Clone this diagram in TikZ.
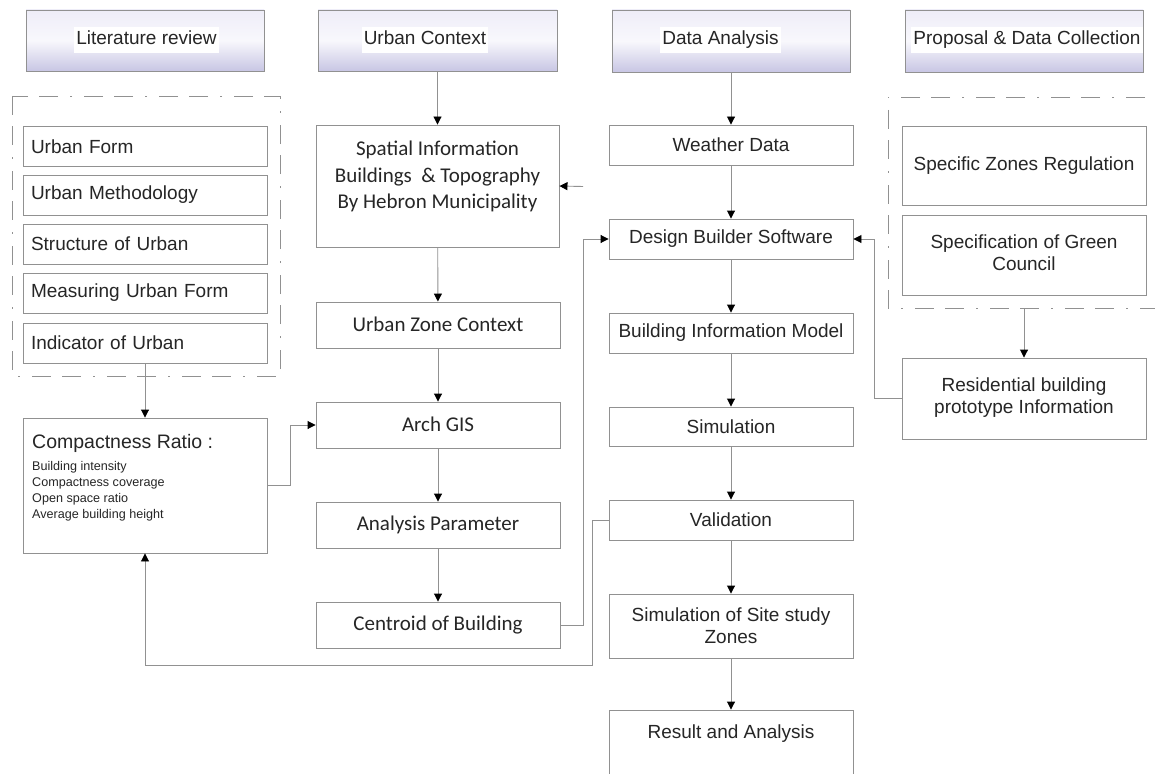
\documentclass[tikz,border=0pt]{standalone}
\usepackage{fontspec}
\setmainfont{Liberation Sans}
\newfontfamily\calfont{Carlito}
\usetikzlibrary{arrows.meta}
\definecolor{lineclr}{RGB}{145,145,145}
\definecolor{lavtop}{RGB}{238,237,248}
\definecolor{lavbot}{RGB}{200,198,228}
\tikzset{
  box/.style={draw=lineclr, line width=0.9pt, rectangle, inner sep=0pt, align=center,
    font=\fontsize{19}{22}\selectfont, text=black!85},
  calbox/.style={box, font=\calfont\fontsize{21}{26.5}\selectfont},
  lbox/.style={box, minimum width=244pt, minimum height=40pt, text width=228pt, inner xsep=8pt, align=left},
  hdr/.style={draw=lineclr, line width=0.9pt, rectangle, top color=lavtop, bottom color=lavbot, middle color=white!60!lavtop},
  hdrtext/.style={fill=white, inner xsep=2pt, inner ysep=4pt, text height=14pt, text depth=4pt, font=\fontsize{19}{22}\selectfont, text=black!85},
  plain/.style={inner sep=0pt, align=center, text=black!85},
  conn/.style={draw=lineclr, line width=0.9pt},
  arr/.style={conn, -{Triangle[length=8pt,width=8pt,color=black]}},
  frame/.style={draw=lineclr, line width=0.9pt, dash pattern=on 19pt off 11pt on 19pt off 12pt on 2pt off 12pt}
}
\begin{document}
\begin{tikzpicture}[x=1pt,y=-1pt]
\useasboundingbox (0,0) rectangle (1155,773);
\clip (0,0) rectangle (1155,773);
\fill[white] (0,0) rectangle (1155,773);

% headers
\node[hdr, minimum width=238pt, minimum height=61pt] (lrh) at (145,40.5) {};
\node[hdrtext] (lrt) at (146.5,40) {Literature review};
\node[hdr, minimum width=239pt, minimum height=61pt] (uch) at (437.5,40.5) {};
\node[hdrtext] (uct) at (425,40) {Urban Context};
\node[hdr, minimum width=238pt, minimum height=62pt] (dah) at (731,41) {};
\node[hdrtext] (dat) at (720.5,40) {Data Analysis};
\node[hdr, minimum width=238pt, minimum height=62pt] (pdh) at (1024,41) {};
\node[hdrtext] (pdt) at (1027,40) {Proposal \& Data Collection};

% left frame
\draw[frame] (12,96) rectangle (280,376);
\node[lbox] (uf) at (145,146.5) {Urban Form};
\node[lbox] (um) at (145,195) {Urban Methodology};
\node[lbox] (su) at (145,244) {Structure of Urban};
\node[lbox] (mu) at (145,293) {Measuring Urban Form};
\node[lbox] (iu) at (145,343) {Indicator of Urban};

% compactness
\node[box, minimum width=244pt, minimum height=135pt] (cmp) at (145,485.5) {};
\node[plain, anchor=north west, align=left, font=\fontsize{12.6}{16}\selectfont] (cmpt) at (32,434)
  {{\fontsize{19.5}{22}\selectfont Compactness Ratio :}\\[6pt]
   Building intensity\\ Compactness coverage\\ Open space ratio\\ Average building height};

% urban context column
\node[box, minimum width=243pt, minimum height=122pt] (sp) at (437.5,186) {};
\node[plain, font=\calfont\fontsize{21}{26.5}\selectfont] (spt) at (437.5,176.5)
  {Spatial Information\\ Buildings \ \& Topography\\ By Hebron Municipality};
\node[calbox, minimum width=244pt, minimum height=46pt] (uz) at (438,325) {\raisebox{2pt}{Urban Zone Context}};
\node[calbox, minimum width=244pt, minimum height=46pt] (ag) at (438,425) {\raisebox{2pt}{Arch GIS}};
\node[calbox, minimum width=244pt, minimum height=46pt] (ap) at (438,525) {\raisebox{2pt}{Analysis Parameter}};
\node[calbox, minimum width=244pt, minimum height=46pt] (cb) at (438,625) {\raisebox{1pt}{Centroid of Building}};

% data analysis column
\node[box, minimum width=244pt, minimum height=40pt] (wd) at (731,145) {Weather Data};
\node[box, minimum width=244pt, minimum height=40pt] (db) at (731,239) {Design Builder Software};
\node[box, minimum width=244pt, minimum height=40pt] (bim) at (731,333) {Building Information Model};
\node[box, minimum width=244pt, minimum height=39pt] (sim) at (731,426.5) {Simulation};
\node[box, minimum width=244pt, minimum height=40pt] (val) at (731,520) {Validation};
\node[box, minimum width=244pt, minimum height=64pt] (sos) at (731,626)
  {Simulation of Site study\\ Zones};
\node[box, minimum width=244pt, minimum height=90pt] (ra) at (731,755) {};
\node[plain, font=\fontsize{19}{22}\selectfont] (rat) at (731,734) {Result and Analysis};

% right frame
\draw[frame] (1175,97) -- (888,97) -- (888,308) -- (1175,308);
\coordinate (rfb) at (1024,308);
\node[box, minimum width=244pt, minimum height=79pt] (sz) at (1024,165.5) {Specific Zones Regulation};
\node[box, minimum width=244pt, minimum height=80pt] (sg) at (1024,255) {\raisebox{4pt}{\begin{tabular}{@{}c@{}}Specification of Green\\ Council\end{tabular}}};
\node[box, minimum width=244pt, minimum height=81pt] (res) at (1024,398.5) {\raisebox{6pt}{\begin{tabular}{@{}c@{}}Residential building\\ prototype Information\end{tabular}}};

% connectors
\coordinate (stub) at (583,186.5);
\draw[arr] (uch) -- (sp);
\draw[arr] (stub) -- (sp.east);
\draw[arr] (sp) -- (uz);
\draw[arr] (uz) -- (ag);
\draw[arr] (ag) -- (ap);
\draw[arr] (ap) -- (cb);
\draw[arr] (cb.east) -- ++(23,0) |- (db.west);
\draw[arr] (dah) -- (wd);
\draw[arr] (wd) -- (db);
\draw[arr] (db) -- (bim);
\draw[arr] (bim) -- (sim);
\draw[arr] (sim) -- (val);
\draw[arr] (val) -- (sos);
\draw[arr] (sos) -- (sos.south |- ra.north);
\draw[arr] (rfb) -- (res);
\draw[arr] (res.west) -- ++(-27,0) |- (db.east);
\draw[arr] (iu) -- (cmp);
\draw[arr] (cmp.east) -- ++(23,0) |- (ag.west);
\coordinate (lowr) at (592,665);
\draw[arr] (val.west) -| (lowr) -| (cmp.south);
\end{tikzpicture}
\end{document}
